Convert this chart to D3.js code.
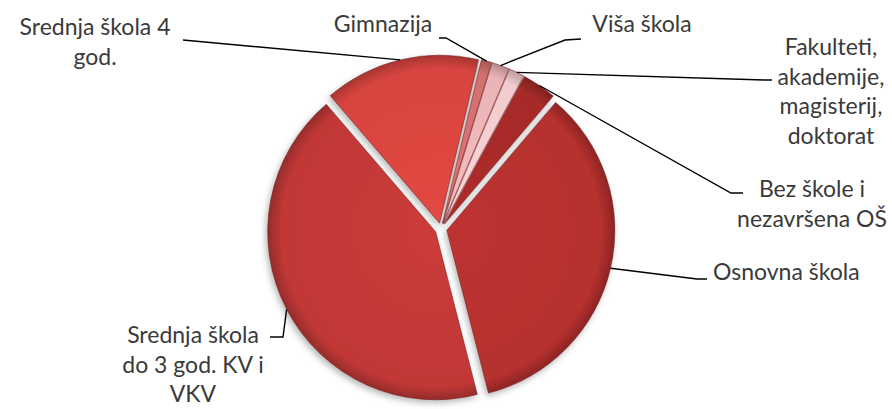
<!DOCTYPE html>
<html>
<head>
<meta charset="utf-8">
<script src="https://cdn.jsdelivr.net/npm/d3@7"></script>
<style>
  body { margin: 0; background: #fff; }
  text { font-family: "Lato", "Open Sans", sans-serif; fill: #3a3a3a; }
</style>
</head>
<body>
<div id="chart"></div>
<script>
// data, in the order Excel draws it (clockwise from the rotation angle)
const categories = [
  "Bez škole i nezavršena OŠ",
  "Osnovna škola",
  "Srednja škola do 3 god. KV i VKV",
  "Srednja škola 4 god.",
  "Gimnazija",
  "Viša škola",
  "Fakulteti, akademije, magisterij, doktorat"
];
const shares = [3.3, 34.8, 42.7, 15.0, 1.0, 1.7, 1.5];
const labelLines = [
  ["Bez škole i", "nezavršena OŠ"],
  ["Osnovna škola"],
  ["Srednja škola", "do 3 god. KV i", "VKV"],
  ["Srednja škola 4", "god."],
  ["Gimnazija"],
  ["Viša škola"],
  ["Fakulteti,", "akademije,", "magisterij,", "doktorat"]
];

// styles
const colors = ["#a62a28", "#b5302e", "#c13836", "#d7443f", "#d2706f", "#eab4b7", "#f1cbcd"];

// label placement: text anchor point, then leader line points from label toward the slice
const labelPos = [
  { x: 812, y: 197, anchor: "middle", leader: [[743, 193], [731, 193]] },
  { x: 713, y: 280, anchor: "start", leader: [[707, 279], [697, 279]] },
  { x: 193, y: 343, anchor: "middle", leader: [[270, 337], [283, 337]] },
  { x: 95, y: 35, anchor: "middle", leader: [[183, 40]] },
  { x: 383, y: 32, anchor: "middle", leader: [[439, 38], [446, 38]] },
  { x: 642, y: 32, anchor: "middle", leader: [[581, 39], [565, 40]] },
  { x: 831, y: 55, anchor: "middle", leader: [[772, 80], [765, 80]] }
];

const w = 892, h = 409;
const cx = 441, cy = 229, R = 168, explode = 6, lineH = 29.5;
const rot = 28.5 * Math.PI / 180;

const data = categories.map((c, i) => ({ name: c, v: shares[i], i: i }));

const svg = d3.select("#chart").append("svg")
  .attr("width", w)
  .attr("height", h);

const defs = svg.append("defs");
const shadow = defs.append("filter").attr("id", "shadow")
  .attr("x", "-20%").attr("y", "-20%").attr("width", "140%").attr("height", "140%");
shadow.append("feDropShadow")
  .attr("dx", -2).attr("dy", 3).attr("stdDeviation", 3)
  .attr("flood-color", "#000").attr("flood-opacity", 0.28);

colors.forEach((c, i) => {
  const g = defs.append("radialGradient").attr("id", "grad" + i)
    .attr("gradientUnits", "userSpaceOnUse")
    .attr("cx", 0).attr("cy", 0).attr("r", R);
  g.append("stop").attr("offset", "0%").attr("stop-color", d3.color(c).brighter(0.15));
  g.append("stop").attr("offset", "92%").attr("stop-color", c);
  g.append("stop").attr("offset", "100%").attr("stop-color", d3.color(c).darker(0.7));
});

const pie = d3.pie().sort(null).value(d => d.v)
  .startAngle(rot).endAngle(rot + 2 * Math.PI);
const arc = d3.arc().innerRadius(0).outerRadius(R);
const arcs = pie(data);

const mid = d => (d.startAngle + d.endAngle) / 2;
const off = d => [explode * Math.sin(mid(d)), -explode * Math.cos(mid(d))];

const pieG = svg.append("g")
  .attr("transform", `translate(${cx}, ${cy})`)
  .attr("filter", "url(#shadow)");

pieG.selectAll("path")
  .data(arcs)
  .join("path")
  .attr("transform", d => `translate(${off(d)[0]}, ${off(d)[1]})`)
  .attr("d", arc)
  .attr("fill", d => `url(#grad${d.index})`)
  .attr("stroke", "#6e1b1b")
  .attr("stroke-opacity", 0.6)
  .attr("stroke-width", 0.9)
  .attr("stroke-linejoin", "round");

// leader lines
const line = d3.line();
svg.append("g").selectAll("path")
  .data(arcs)
  .join("path")
  .attr("fill", "none")
  .attr("stroke", "#000")
  .attr("stroke-width", 1.4)
  .attr("d", d => {
    const p = labelPos[d.index];
    const o = off(d);
    const end = [cx + o[0] + R * Math.sin(mid(d)), cy + o[1] - R * Math.cos(mid(d))];
    return line(p.leader.concat([end]));
  });

// labels
const labels = svg.append("g").selectAll("text")
  .data(arcs)
  .join("text")
  .attr("x", d => labelPos[d.index].x)
  .attr("y", d => labelPos[d.index].y)
  .attr("text-anchor", d => labelPos[d.index].anchor)
  .style("font-size", "23px");

labels.selectAll("tspan")
  .data(d => labelLines[d.index].map(t => ({ t: t, x: labelPos[d.index].x })))
  .join("tspan")
  .attr("x", d => d.x)
  .attr("dy", (d, i) => i === 0 ? 0 : lineH)
  .text(d => d.t);
</script>
</body>
</html>
